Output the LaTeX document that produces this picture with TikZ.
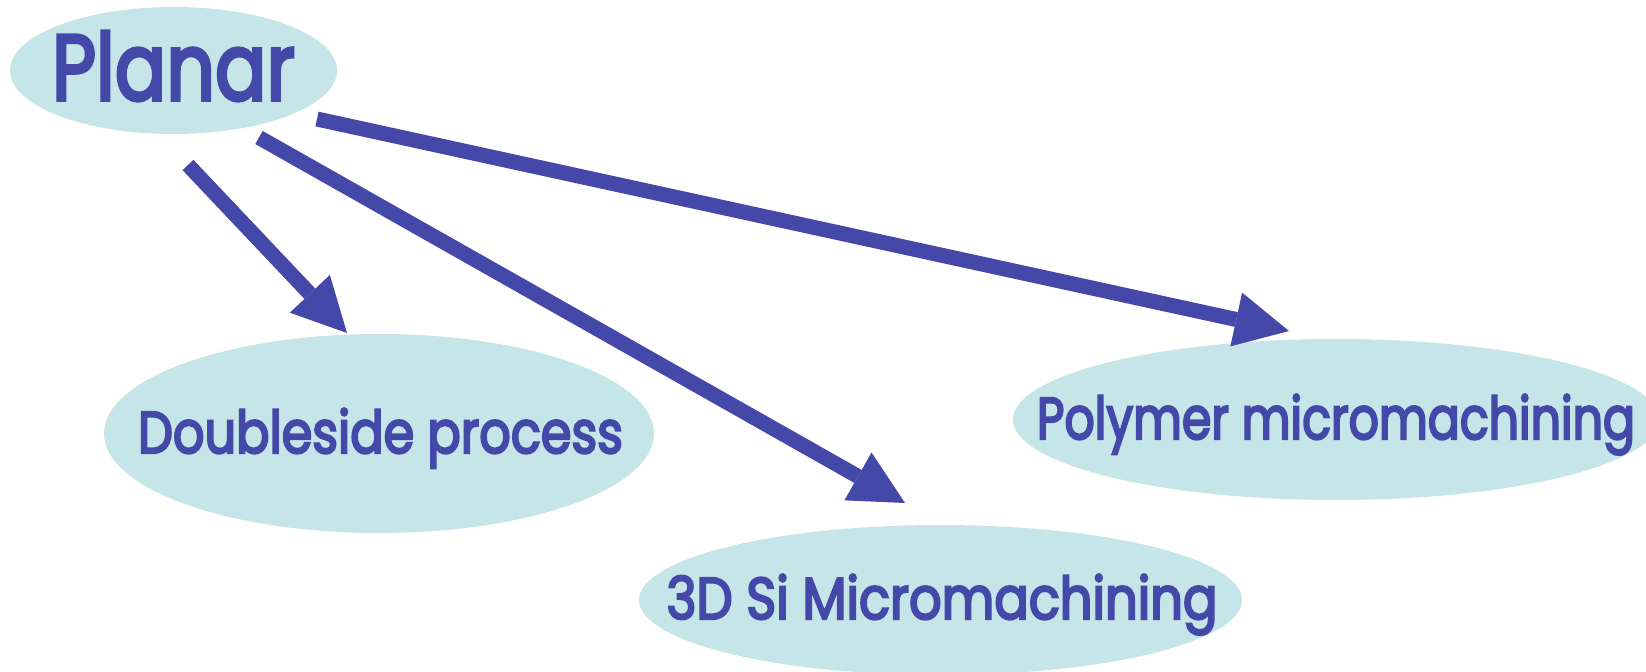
\documentclass[tikz,border=0pt]{standalone}
\usepackage{fontspec}
\setmainfont{Poppins}[FakeBold=4]
\usepackage{graphicx}
\usetikzlibrary{arrows.meta,shapes.geometric}
\definecolor{inkblue}{HTML}{4448A8}
\definecolor{bubblefill}{HTML}{C5E5E8}
% stretch a label horizontally to a given width, keeping its height
\newcommand\fitto[2]{\resizebox{#1}{\height}{#2}}
\begin{document}
\begin{tikzpicture}[x=0.5pt,y=-0.5pt,
  bubble/.style={ellipse,fill=bubblefill,draw=none,inner sep=0pt},
  caption/.style={anchor=base,text=inkblue,inner sep=0pt,
    font=\fontsize{29.4}{30}\selectfont},
  link/.style={draw=inkblue,line width=7.5pt,
    -{Triangle[length=27pt,width=27.5pt,line width=0pt]}}]
\useasboundingbox (0,0) rectangle (1646,671);

% bubbles
\node[bubble,minimum width=163.5pt,minimum height=63.5pt] (planar) at (173.5,70.5) {};
\node[bubble,minimum width=275pt,minimum height=99.5pt] (double) at (379,433.5) {};
\node[bubble,minimum width=301.5pt,minimum height=75pt] (si) at (940.5,600) {};
\node[bubble,minimum width=323pt,minimum height=80.5pt] (poly) at (1336,419.5) {};

% labels
\node[caption,font=\fontsize{46.5}{48}\selectfont] (planarT) at (173.5,100) {\fitto{121.5pt}{Planar}};
\node[caption] (doubleT) at (380.5,453) {\fitto{242.5pt}{Doubleside process}};
\node[caption] (siT) at (942,619) {\fitto{275.5pt}{3D Si Micromachining}};
\node[caption] (polyT) at (1336,439) {\fitto{299pt}{Polymer micromachining}};

% arrows out of the planar process
\coordinate (a1s) at (188,165);
\coordinate (a1e) at (347,333);
\coordinate (a2s) at (259,137.5);
\coordinate (a2e) at (905,503);
\coordinate (a3s) at (317,119);
\coordinate (a3e) at (1289,331);
\draw[link] (a1s) -- (a1e);
\draw[link] (a2s) -- (a2e);
\draw[link] (a3s) -- (a3e);
\end{tikzpicture}
\end{document}
